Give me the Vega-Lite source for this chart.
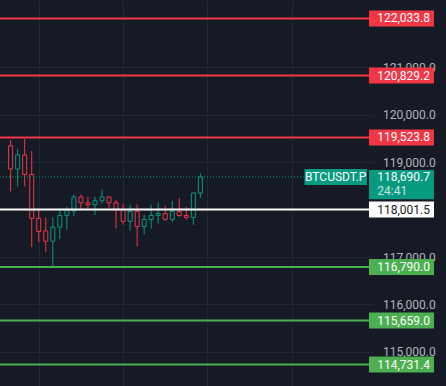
{
  "$schema": "https://vega.github.io/schema/vega-lite/v6.json",
  "width": 373,
  "height": 386,
  "autosize": {"type": "none"},
  "padding": {"left": 0, "top": 0, "right": 73, "bottom": 0},
  "background": "#161a25",
  "config": {
    "view": {"stroke": null},
    "font": "Roboto",
    "axis": {"gridColor": "#232733", "gridWidth": 1, "zindex": 0}
  },
  "datasets": {
    "candles": [
      {"i": 1, "open": 119346, "high": 119470, "low": 118384, "close": 118858},
      {"i": 2, "open": 118858, "high": 119284, "low": 118487, "close": 119154},
      {"i": 3, "open": 119154, "high": 119496, "low": 118487, "close": 118742},
      {"i": 4, "open": 118742, "high": 119237, "low": 117209, "close": 117815},
      {"i": 5, "open": 117815, "high": 118021, "low": 117312, "close": 117539},
      {"i": 6, "open": 117553, "high": 117836, "low": 117106, "close": 117333},
      {"i": 7, "open": 117333, "high": 117836, "low": 116785, "close": 117630},
      {"i": 8, "open": 117630, "high": 117986, "low": 117382, "close": 117877},
      {"i": 9, "open": 117877, "high": 118054, "low": 117574, "close": 117986},
      {"i": 10, "open": 117972, "high": 118316, "low": 117869, "close": 118268},
      {"i": 11, "open": 118268, "high": 118316, "low": 118000, "close": 118145},
      {"i": 12, "open": 118145, "high": 118268, "low": 118033, "close": 118104},
      {"i": 13, "open": 118104, "high": 118268, "low": 117889, "close": 118186},
      {"i": 14, "open": 118186, "high": 118433, "low": 118124, "close": 118268},
      {"i": 15, "open": 118268, "high": 118280, "low": 118042, "close": 118145},
      {"i": 16, "open": 118145, "high": 118207, "low": 117601, "close": 118000},
      {"i": 17, "open": 118000, "high": 118124, "low": 117683, "close": 117753},
      {"i": 18, "open": 117753, "high": 118104, "low": 117560, "close": 117959},
      {"i": 19, "open": 117959, "high": 118104, "low": 117230, "close": 117642},
      {"i": 20, "open": 117642, "high": 117897, "low": 117477, "close": 117794},
      {"i": 21, "open": 117794, "high": 118104, "low": 117601, "close": 117877},
      {"i": 22, "open": 117877, "high": 118145, "low": 117704, "close": 117918},
      {"i": 23, "open": 117918, "high": 118083, "low": 117766, "close": 117794},
      {"i": 24, "open": 117794, "high": 118186, "low": 117733, "close": 117959},
      {"i": 25, "open": 117959, "high": 118248, "low": 117848, "close": 117877},
      {"i": 26, "open": 117877, "high": 118062, "low": 117786, "close": 117836},
      {"i": 27, "open": 117836, "high": 118360, "low": 117683, "close": 118351},
      {"i": 28, "open": 118351, "high": 118769, "low": 118248, "close": 118690.7}
    ],
    "levels": [
      {"price": 122033.8, "kind": "resistance"},
      {"price": 120829.2, "kind": "resistance"},
      {"price": 119523.8, "kind": "resistance"},
      {"price": 118001.5, "kind": "pivot"},
      {"price": 116790.0, "kind": "support"},
      {"price": 115659.0, "kind": "support"},
      {"price": 114731.4, "kind": "support"}
    ],
    "current": [
      {"price": 118690.7, "symbol": "BTCUSDT.P", "countdown": "24:41"}
    ]
  },
  "layer": [
    {
      "data": {"name": "candles"},
      "mark": {"type": "rule", "strokeWidth": 1},
      "encoding": {
        "x": {
          "field": "i", "type": "quantitative",
          "scale": {"domain": [0.2, 51.85], "nice": false, "zero": false},
          "axis": {"orient": "bottom", "values": [5, 17, 29, 41], "grid": true, "labels": false, "ticks": false, "domain": false, "title": null}
        },
        "y": {
          "field": "low", "type": "quantitative",
          "scale": {"domain": [114384, 122318], "nice": false, "zero": false},
          "axis": {
            "orient": "right", "values": [115000, 116000, 117000, 119000, 120000, 121000],
            "format": ",.1f", "grid": true, "ticks": false, "domain": false, "title": null,
            "labelAlign": "left", "labelBaseline": "middle", "labelPadding": 9.5,
            "labelColor": "#b2b5be", "labelFontSize": 12, "labelFont": "Roboto",
            "labelOverlap": false, "labelBound": false, "labelFlush": false
          }
        },
        "y2": {"field": "high"},
        "color": {"condition": {"test": "datum.close >= datum.open", "value": "#089981"}, "value": "#f23645"}
      }
    },
    {
      "data": {"name": "candles"},
      "mark": {"type": "bar", "orient": "vertical", "size": 4, "fill": "#161a25", "strokeWidth": 1},
      "encoding": {
        "x": {"field": "i", "type": "quantitative"},
        "y": {"field": "open", "type": "quantitative"},
        "y2": {"field": "close"},
        "stroke": {"condition": {"test": "datum.close >= datum.open", "value": "#089981"}, "value": "#f23645"}
      }
    },
    {
      "data": {"name": "current"},
      "mark": {"type": "rule", "strokeWidth": 1, "strokeDash": [1, 2], "color": "#089981"},
      "encoding": {
        "y": {"field": "price", "type": "quantitative"}
      }
    },
    {
      "data": {"name": "levels"},
      "mark": {"type": "rule", "strokeWidth": 2},
      "encoding": {
        "y": {"field": "price", "type": "quantitative"},
        "color": {"field": "kind", "type": "nominal", "scale": {"domain": ["resistance", "pivot", "support"], "range": ["#f23645", "#ffffff", "#4caf50"]}, "legend": null}
      }
    },
    {
      "data": {"name": "levels"},
      "mark": {"type": "bar", "orient": "horizontal", "size": 16},
      "encoding": {
        "y": {"field": "price", "type": "quantitative"},
        "x": {"datum": 51.99, "type": "quantitative"},
        "x2": {"datum": 61.24},
        "color": {"field": "kind", "type": "nominal", "legend": null}
      }
    },
    {
      "data": {"name": "levels"},
      "mark": {"type": "text", "align": "left", "baseline": "middle", "fontSize": 12, "font": "Roboto"},
      "encoding": {
        "y": {"field": "price", "type": "quantitative"},
        "x": {"datum": 53.17, "type": "quantitative"},
        "text": {"field": "price", "type": "quantitative", "format": ",.1f"},
        "color": {"condition": {"test": "datum.kind === 'pivot'", "value": "#131722"}, "value": "#ffffff"}
      }
    },
    {
      "data": {"name": "current"},
      "mark": {"type": "bar", "orient": "horizontal", "size": 16, "color": "#089981"},
      "encoding": {
        "y": {"field": "price", "type": "quantitative"},
        "x": {"datum": 42.81, "type": "quantitative"},
        "x2": {"datum": 51.71}
      }
    },
    {
      "data": {"name": "current"},
      "mark": {"type": "text", "align": "center", "baseline": "middle", "fontSize": 12, "font": "Roboto", "color": "#ffffff"},
      "encoding": {
        "y": {"field": "price", "type": "quantitative"},
        "x": {"datum": 47.26, "type": "quantitative"},
        "text": {"field": "symbol"}
      }
    },
    {
      "data": {"name": "current"},
      "mark": {"type": "bar", "orient": "vertical", "color": "#089981"},
      "encoding": {
        "x": {"datum": 51.99, "type": "quantitative"},
        "x2": {"datum": 61.24},
        "y": {"datum": 118838, "type": "quantitative"},
        "y2": {"datum": 118221}
      }
    },
    {
      "data": {"name": "current"},
      "mark": {"type": "text", "align": "left", "baseline": "middle", "fontSize": 12, "font": "Roboto", "color": "#ffffff"},
      "encoding": {
        "y": {"field": "price", "type": "quantitative"},
        "x": {"datum": 53.17, "type": "quantitative"},
        "text": {"field": "price", "type": "quantitative", "format": ",.1f"}
      }
    },
    {
      "data": {"name": "current"},
      "mark": {"type": "text", "align": "left", "baseline": "middle", "fontSize": 12, "font": "Roboto", "color": "#ffffff", "opacity": 0.75, "dy": 14.5},
      "encoding": {
        "y": {"field": "price", "type": "quantitative"},
        "x": {"datum": 53.17, "type": "quantitative"},
        "text": {"field": "countdown"}
      }
    }
  ]
}
